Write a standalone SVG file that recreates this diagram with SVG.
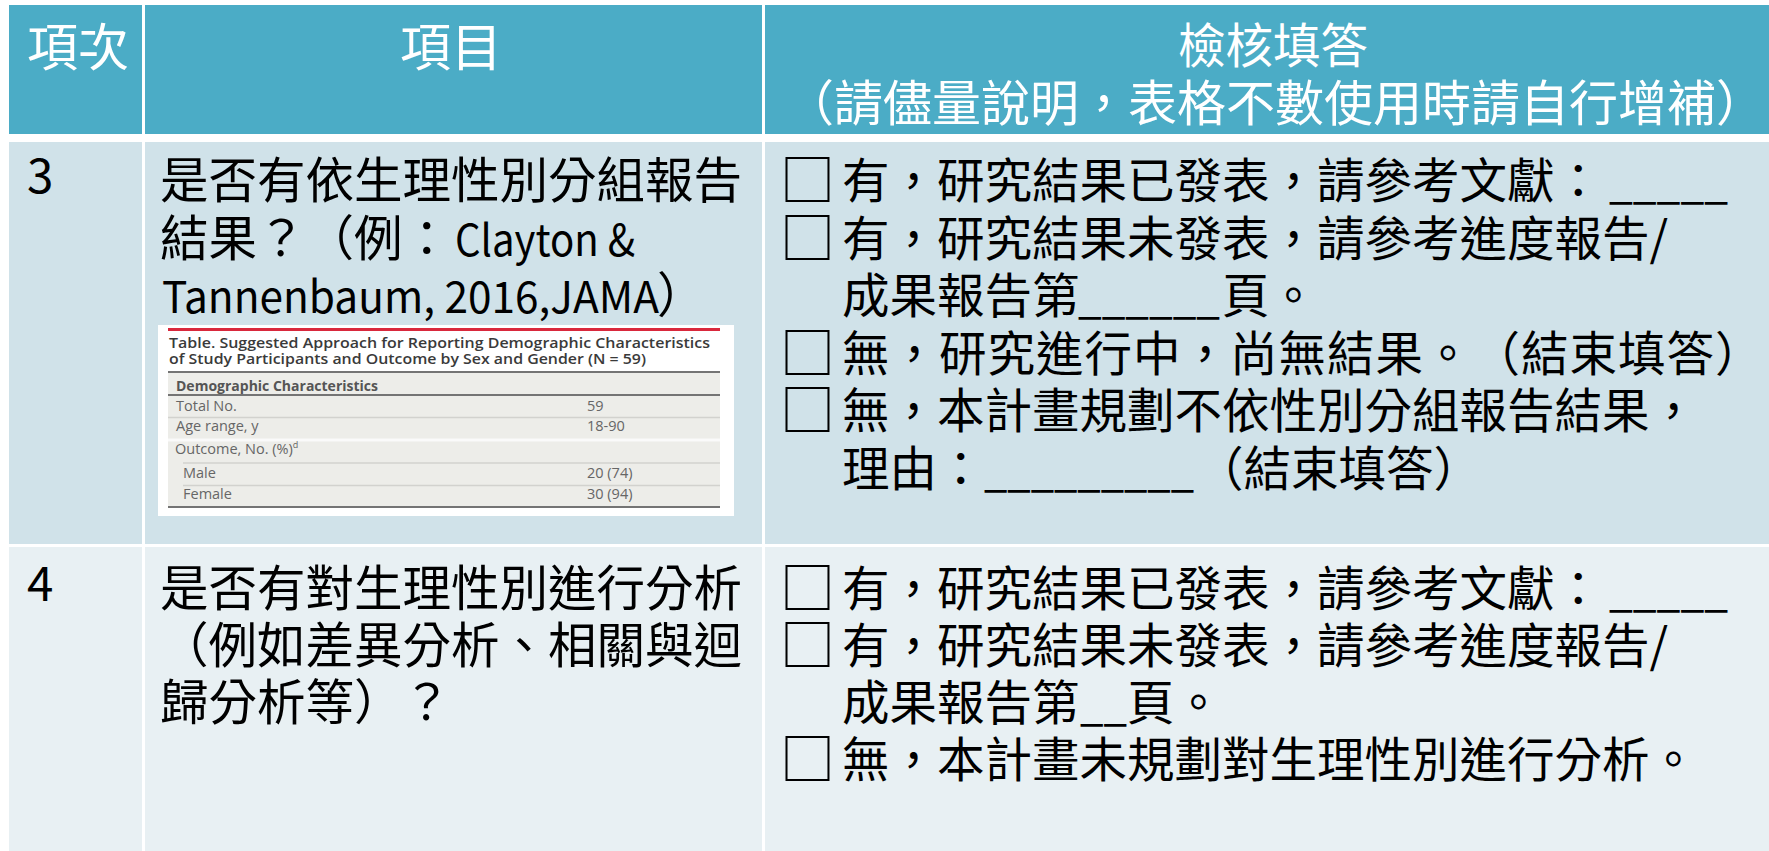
<svg xmlns="http://www.w3.org/2000/svg" width="1769" height="851" viewBox="0 0 1769 851">
<style>
text{text-spacing-trim:space-all}
.cjk{font-family:"Noto Sans CJK TC","Noto Sans CJK SC",sans-serif;font-size:47.5px}
.hbig{font-family:"Noto Sans CJK TC","Noto Sans CJK SC",sans-serif;font-size:51px;fill:#fff}
.h2{font-family:"Noto Sans CJK TC","Noto Sans CJK SC",sans-serif;font-size:49px;fill:#fff}
.c2{font-family:"Noto Sans CJK TC","Noto Sans CJK SC",sans-serif;font-size:48.5px;fill:#000}
.lat{font-family:"Noto Sans CJK TC","Noto Sans CJK SC",sans-serif;font-size:44px;fill:#000}
.cb{font-family:"Noto Sans CJK TC","Noto Sans CJK SC",sans-serif;font-size:55px;fill:#000}
.hd{fill:#ffffff}
.bd{fill:#000000}
.hc{fill:#4BACC6}
.r3{fill:#D0E2E9}
.r4{fill:#E8F0F3}
.us{font-family:"Noto Sans CJK TC",sans-serif;font-size:47.5px;fill:#000}
.tt{font-family:"Open Sans","Liberation Sans",sans-serif;font-size:15px;font-weight:600;fill:#3a3a3a}
.tb{font-family:"Open Sans","Liberation Sans",sans-serif;font-size:14.5px;fill:#666}
.tbb{font-family:"Open Sans","Liberation Sans",sans-serif;font-size:14px;font-weight:700;fill:#555}
.thin{stroke:#d2d2ce;stroke-width:1.5}
.dark{stroke:#747474;stroke-width:2}
</style>
<rect x="0" y="0" width="1769" height="851" fill="#ffffff"/>

<g id="header">
  <g id="h-col1">
    <rect class="hc" x="9" y="5" width="133" height="129"/>
    <text class="hbig" x="27" y="66">項次</text>
  </g>
  <g id="h-col2">
    <rect class="hc" x="145" y="5" width="617" height="129"/>
    <text class="hbig" x="451" y="66" text-anchor="middle">項目</text>
  </g>
  <g id="h-col3">
    <rect class="hc" x="765" y="5" width="1004" height="129"/>
    <text class="cjk hd" x="1273" y="63" text-anchor="middle">檢核填答</text>
    <text class="h2" x="1275" y="121" text-anchor="middle">（請儘量說明，表格不數使用時請自行增補）</text>
  </g>
</g>

<g id="row3">
  <g id="r3-col1">
    <rect class="r3" x="9" y="142" width="133" height="402"/>
    <text class="cjk bd" x="27" y="193">3</text>
  </g>
  <g id="r3-col2">
    <rect class="r3" x="145" y="142" width="617" height="402"/>
    <text class="c2" x="160" y="198">是否有依生理性別分組報告</text>
    <text class="c2" x="160" y="255.5">結果？（例：</text>
    <text class="lat" x="455" y="255.5" textLength="180" lengthAdjust="spacingAndGlyphs">Clayton &amp;</text>
    <text class="lat" x="162" y="313" textLength="497" lengthAdjust="spacingAndGlyphs">Tannenbaum, 2016,JAMA</text>
    <text class="c2" x="657" y="313">）</text>
    <g id="jama-table">
      <rect x="158" y="325" width="576" height="191" fill="#ffffff"/>
      <rect x="168" y="373" width="552" height="134" fill="#EDEDE9"/>
      <line x1="168" y1="329.5" x2="720" y2="329.5" stroke="#D9283C" stroke-width="3"/>
      <text class="tt" x="169" y="348" textLength="541" lengthAdjust="spacingAndGlyphs">Table. Suggested Approach for Reporting Demographic Characteristics</text>
      <text class="tt" x="169" y="364" textLength="477" lengthAdjust="spacingAndGlyphs">of Study Participants and Outcome by Sex and Gender (N = 59)</text>
      <line class="dark" x1="168" y1="372" x2="720" y2="372"/>
      <text class="tbb" x="176" y="391">Demographic Characteristics</text>
      <line class="dark" x1="168" y1="395" x2="720" y2="395"/>
      <text class="tb" x="176" y="411">Total No.</text>
      <text class="tb" x="587" y="411">59</text>
      <line class="thin" x1="168" y1="417.5" x2="720" y2="417.5"/>
      <text class="tb" x="176" y="431">Age range, y</text>
      <text class="tb" x="587" y="431">18-90</text>
      <line x1="168" y1="440" x2="720" y2="440" stroke="#fafafa" stroke-width="3"/>
      <text class="tb" x="175" y="454">Outcome, No. (%)<tspan font-size="9" dy="-6">d</tspan></text>
      <line class="thin" x1="183" y1="463" x2="720" y2="463"/>
      <text class="tb" x="183" y="478">Male</text>
      <text class="tb" x="587" y="478">20 (74)</text>
      <line class="thin" x1="183" y1="485.5" x2="720" y2="485.5"/>
      <text class="tb" x="183" y="499">Female</text>
      <text class="tb" x="587" y="499">30 (94)</text>
      <line class="dark" x1="168" y1="507" x2="720" y2="507"/>
    </g>
  </g>
  <g id="r3-col3">
    <rect class="r3" x="765" y="142" width="1004" height="402"/>
    <text class="cb" x="780" y="200">□</text>
    <text class="cjk bd" x="842" y="198">有，研究結果已發表，請參考文獻：</text>
    <text class="us" x="1609" y="198" textLength="119" lengthAdjust="spacingAndGlyphs">_____</text>
    <text class="cb" x="780" y="257.5">□</text>
    <text class="cjk bd" x="842" y="255.5">有，研究結果未發表，請參考進度報告/</text>
    <text class="cjk bd" x="842" y="313">成果報告第</text>
    <text class="us" x="1078" y="313" textLength="142" lengthAdjust="spacingAndGlyphs">______</text>
    <text class="cjk bd" x="1222" y="313">頁。</text>
    <text class="cb" x="780" y="372.5">□</text>
    <text class="cjk bd" x="842" y="370.5" letter-spacing="1">無，研究進行中，尚無結果。（結束填答）</text>
    <text class="cb" x="780" y="430">□</text>
    <text class="cjk bd" x="842" y="428">無，本計畫規劃不依性別分組報告結果，</text>
    <text class="cjk bd" x="842" y="485.5">理由：</text>
    <text class="us" x="984" y="485.5" textLength="210" lengthAdjust="spacingAndGlyphs">_________</text>
    <text class="cjk bd" x="1196" y="485.5">（結束填答）</text>
  </g>
</g>

<g id="row4">
  <g id="r4-col1">
    <rect class="r4" x="9" y="547" width="133" height="304"/>
    <text class="cjk bd" x="27" y="601">4</text>
  </g>
  <g id="r4-col2">
    <rect class="r4" x="145" y="547" width="617" height="304"/>
    <text class="c2" x="160" y="606">是否有對生理性別進行分析</text>
    <text class="c2" x="160" y="663">（例如差異分析、相關與迴</text>
    <text class="c2" x="160" y="720">歸分析等）？</text>
  </g>
  <g id="r4-col3">
    <rect class="r4" x="765" y="547" width="1004" height="304"/>
    <text class="cb" x="780" y="608">□</text>
    <text class="cjk bd" x="842" y="606">有，研究結果已發表，請參考文獻：</text>
    <text class="us" x="1609" y="606" textLength="119" lengthAdjust="spacingAndGlyphs">_____</text>
    <text class="cb" x="780" y="665">□</text>
    <text class="cjk bd" x="842" y="663">有，研究結果未發表，請參考進度報告/</text>
    <text class="cjk bd" x="842" y="720">成果報告第</text>
    <text class="us" x="1080" y="720" textLength="47" lengthAdjust="spacingAndGlyphs">__</text>
    <text class="cjk bd" x="1127" y="720">頁。</text>
    <text class="cb" x="780" y="779">□</text>
    <text class="cjk bd" x="842" y="777">無，本計畫未規劃對生理性別進行分析。</text>
  </g>
</g>
</svg>
